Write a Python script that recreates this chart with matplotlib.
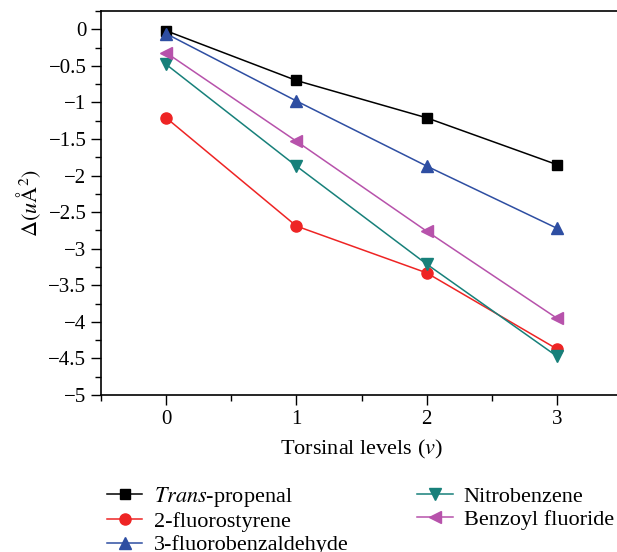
import matplotlib
matplotlib.use("Agg")
import matplotlib.pyplot as plt
from matplotlib.ticker import MultipleLocator, FuncFormatter

levels = [0, 1, 2, 3]
trans_propenal = [-0.02, -0.70, -1.21, -1.85]
fluorostyrene = [-1.21, -2.69, -3.33, -4.37]
fluorobenzaldehyde = [-0.06, -0.98, -1.87, -2.72]
nitrobenzene = [-0.48, -1.87, -3.21, -4.47]
benzoyl_fluoride = [-0.32, -1.53, -2.76, -3.95]

labels = [r"$\it{Trans}$-propenal", "2-fluorostyrene", "3-fluorobenzaldehyde",
          "Nitrobenzene", "Benzoyl fluoride"]

plt.rcParams['font.family'] = ['Liberation Serif', 'DejaVu Serif']
plt.rcParams['mathtext.fontset'] = 'stix'

fig = plt.figure(figsize=(6.17, 5.52), dpi=100)
W, H = 617, 552
left, right, top, bottom = 101, 622, 11, 395
ax = fig.add_axes([left / W, 1 - bottom / H, (right - left) / W, (bottom - top) / H])

series = [
    (trans_propenal, 'black', 's', 7.5),
    (fluorostyrene, '#ee2424', 'o', 8),
    (fluorobenzaldehyde, '#2e4ea2', '^', 8.5),
    (nitrobenzene, '#17807a', 'v', 8.5),
    (benzoyl_fluoride, '#b752ab', '<', 8.5),
]
handles = []
for (vals, c, m, ms), lab in zip(series, labels):
    h, = ax.plot(levels, vals, color=c, marker=m, markersize=ms, lw=1.1, label=lab)
    handles.append(h)

ax.set_xlim(-0.5, 3.5)
ax.set_ylim(-5, 0.25)
ax.xaxis.set_major_locator(MultipleLocator(1))
ax.xaxis.set_minor_locator(MultipleLocator(0.5))
ax.yaxis.set_major_locator(MultipleLocator(0.5))
ax.yaxis.set_minor_locator(MultipleLocator(0.25))
ax.yaxis.set_major_formatter(FuncFormatter(lambda v, p: ('%g' % v).replace('-', '\u2212')))
ax.tick_params(which='major', direction='out', length=7, width=1, labelsize=15)
ax.tick_params(which='minor', direction='out', length=4, width=1)
ax.spines['right'].set_visible(False)
for s in ['left', 'bottom', 'top']:
    ax.spines[s].set_linewidth(1.2)

ax.set_xlabel(r"Torsinal levels ($v$)", fontsize=16, labelpad=7)
ax.set_ylabel(r"$\Delta(u\mathrm{\AA}^2)$", fontsize=16, labelpad=4)

fig.legend(handles=handles, labels=labels, loc='upper left',
           bbox_to_anchor=(98 / W, 1 - 476 / H), ncol=2, frameon=False,
           fontsize=16, handlelength=1.6, handletextpad=0.5,
           columnspacing=3.1, labelspacing=0.12, borderaxespad=0)

fig.savefig("out.png", dpi=100)
